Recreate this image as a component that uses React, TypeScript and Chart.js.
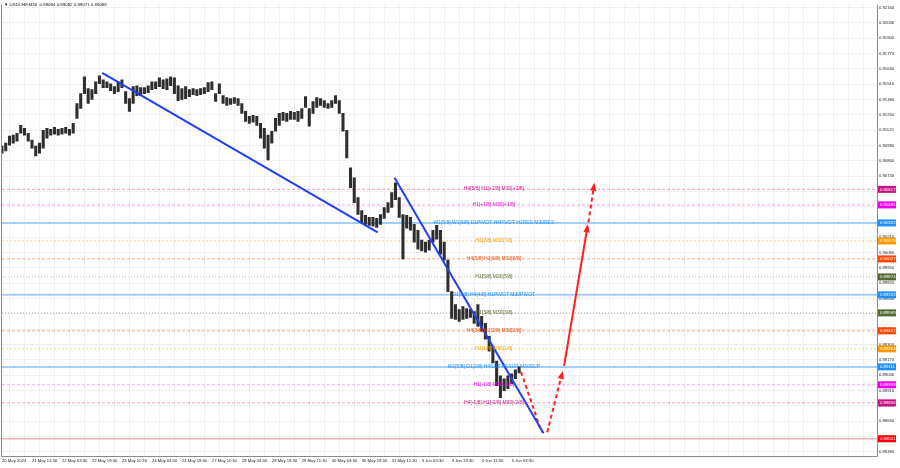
import { useEffect, useRef } from "react";
import { Chart, registerables } from "chart.js";

Chart.register(...registerables);

// ---- data ----
const titleText = "▼ USDCHF,M30  0.89084 0.89092 0.89071 0.89088";

// one column = 4 M30 bars (high / low of the group)
const COLUMN_BARS = 4;
const highs = [
  0.90984, 0.91009, 0.91068, 0.91077, 0.91093, 0.91160, 0.91135, 0.91093, 0.91034, 0.90984,
  0.91009, 0.91118, 0.91135, 0.91127, 0.91144, 0.91127, 0.91135, 0.91144, 0.91127, 0.91177,
  0.91345, 0.91429, 0.91572, 0.91471, 0.91463, 0.91530, 0.91580, 0.91547, 0.91530, 0.91513,
  0.91488, 0.91530, 0.91547, 0.91446, 0.91387, 0.91488, 0.91496, 0.91480, 0.91480, 0.91496,
  0.91530, 0.91530, 0.91564, 0.91547, 0.91555, 0.91572, 0.91564, 0.91496, 0.91471, 0.91488,
  0.91463, 0.91471, 0.91463, 0.91471, 0.91480, 0.91522, 0.91530, 0.91429, 0.91513, 0.91412,
  0.91396, 0.91387, 0.91396, 0.91387, 0.91345, 0.91278, 0.91236, 0.91244, 0.91236, 0.91177,
  0.91135, 0.91077, 0.91110, 0.91219, 0.91261, 0.91270, 0.91261, 0.91278, 0.91270, 0.91278,
  0.91303, 0.91404, 0.91303, 0.91362, 0.91396, 0.91387, 0.91370, 0.91345, 0.91370, 0.91412,
  0.91370, 0.91261, 0.91118, 0.90799, 0.90715, 0.90547, 0.90438, 0.90396, 0.90379, 0.90379,
  0.90371, 0.90404, 0.90463, 0.90505, 0.90589, 0.90673, 0.90547, 0.90404, 0.90396, 0.90379,
  0.90320, 0.90270, 0.90186, 0.90169, 0.90186, 0.90270, 0.90312, 0.90270, 0.90169, 0.90017,
  0.89749, 0.89640, 0.89598, 0.89623, 0.89606, 0.89598, 0.89581, 0.89640, 0.89539, 0.89480,
  0.89371, 0.89287, 0.89161, 0.89035, 0.89010, 0.89035, 0.89052, 0.89086, 0.89111,
];
const lows = [
  0.90925, 0.90942, 0.90992, 0.91009, 0.91026, 0.91093, 0.91077, 0.91026, 0.90967, 0.90900,
  0.90925, 0.90967, 0.91051, 0.91077, 0.91085, 0.91077, 0.91085, 0.91093, 0.91077, 0.91093,
  0.91219, 0.91303, 0.91429, 0.91345, 0.91379, 0.91429, 0.91513, 0.91480, 0.91480, 0.91454,
  0.91429, 0.91446, 0.91480, 0.91345, 0.91278, 0.91345, 0.91412, 0.91412, 0.91429, 0.91438,
  0.91463, 0.91471, 0.91488, 0.91471, 0.91463, 0.91496, 0.91429, 0.91370, 0.91379, 0.91387,
  0.91404, 0.91421, 0.91412, 0.91421, 0.91429, 0.91446, 0.91463, 0.91362, 0.91429, 0.91345,
  0.91328, 0.91337, 0.91345, 0.91328, 0.91261, 0.91194, 0.91177, 0.91186, 0.91160, 0.91051,
  0.90967, 0.90866, 0.91009, 0.91110, 0.91160, 0.91202, 0.91194, 0.91211, 0.91211, 0.91194,
  0.91219, 0.91312, 0.91152, 0.91261, 0.91312, 0.91328, 0.91312, 0.91303, 0.91312, 0.91345,
  0.91261, 0.91110, 0.90883, 0.90631, 0.90505, 0.90404, 0.90337, 0.90320, 0.90312, 0.90304,
  0.90295, 0.90320, 0.90371, 0.90421, 0.90463, 0.90530, 0.90379, 0.90026, 0.90287, 0.90270,
  0.90169, 0.90110, 0.90094, 0.90085, 0.90102, 0.90169, 0.90194, 0.90068, 0.90017, 0.89749,
  0.89522, 0.89514, 0.89497, 0.89514, 0.89522, 0.89531, 0.89480, 0.89455, 0.89413, 0.89346,
  0.89245, 0.89144, 0.88951, 0.88850, 0.88909, 0.88926, 0.88968, 0.89010, 0.89060,
];

const TICK_BARS = 32;
const tickLabels = [
  "20 May 2024", "21 May 11:30", "22 May 03:30", "22 May 19:30", "23 May 11:30", "24 May 03:30",
  "24 May 19:30", "27 May 11:30", "28 May 03:30", "28 May 19:30", "29 May 11:30", "30 May 03:30",
  "30 May 19:30", "31 May 11:30", "3 Jun 03:30", "3 Jun 19:30", "4 Jun 11:30", "5 Jun 03:30",
];
const X_MAX_BARS = 934;

const Y_MIN = 0.88355;
const Y_MAX = 0.92185;
const yTickValues = [
  0.9216, 0.9203, 0.919, 0.9177, 0.9164, 0.9151, 0.9138, 0.9125, 0.9112, 0.9099,
  0.9086, 0.9073, 0.906, 0.9047, 0.9034, 0.9021, 0.9008, 0.8995, 0.8982, 0.8969,
  0.8956, 0.8943, 0.893, 0.8917, 0.8904, 0.8891, 0.8878, 0.8865, 0.8852, 0.8839,
];

const levelPrices = [
  0.90617, 0.90485, 0.90332, 0.90179, 0.90027, 0.89874, 0.89722,
  0.89569, 0.89417, 0.89264, 0.89111, 0.88959, 0.88806, 0.88501,
];
const levelLabels = [
  "H4[5/8] H1[+2/8] M30[+2/8]",
  "H1[+1/8] M30[+1/8]",
  "W1[5/8] W1[6/8] D1PIVOT H4PIVOT H1RES M30RES",
  "H1[7/8] M30[7/8]",
  "H4[5/8] H1[6/8] M30[6/8]",
  "H1[5/8] M30[5/8]",
  "D1[3/8] H4[4/8] H1PIVOT M30PIVOT",
  "H1[3/8] M30[3/8]",
  "H4[3/8] H1[2/8] M30[2/8]",
  "H1[1/8] M30[1/8]",
  "W1[5/8] D1[2/8] H4SUP H1SUP M30SUP",
  "H1[-1/8] M30[-1/8]",
  "H4[-1/8] H1[-2/8] M30[-2/8]",
  "",
];
const LEVEL_LABEL_BAR = 525;

const trend1Bars = [107, 401];
const trend1Prices = [0.91606, 0.90253];
const trend2Bars = [419, 578];
const trend2Prices = [0.90715, 0.88548];

const arrowDownBars = [554, 576];
const arrowDownPrices = [0.89069, 0.88557];
const arrowUp1Bars = [582, 598];
const arrowUp1Prices = [0.88557, 0.8906];
const arrowUp2Bars = [600, 625];
const arrowUp2Prices = [0.89119, 0.90304];
const arrowUp3Bars = [626, 632];
const arrowUp3Prices = [0.90337, 0.90656];

// ---- styles ----
const levelColors = [
  "#c71585", "#ee00ee", "#1e90ff", "#ff9900", "#ff4500", "#556b2f", "#1e90ff",
  "#556b2f", "#ff4500", "#ff9900", "#1e90ff", "#ee00ee", "#c71585", "#ff0000",
];
const levelLineColors = [
  "rgba(199,21,133,0.4)", "rgba(238,0,238,0.35)", "#a3cff7", "rgba(255,153,0,0.45)",
  "rgba(255,69,0,0.45)", "rgba(85,107,47,0.45)", "#a3cff7", "rgba(85,107,47,0.45)",
  "rgba(255,69,0,0.45)", "rgba(255,153,0,0.45)", "#a3cff7", "rgba(238,0,238,0.35)",
  "rgba(199,21,133,0.4)", "rgba(240,90,90,0.7)",
];
const levelDashes = [
  [3, 2], [3, 2], [], [2, 2], [3, 2], [1, 2], [], [1, 2], [3, 2], [2, 2], [], [3, 2], [3, 2], [],
];
const levelWidths = [1, 1, 2, 1, 1, 1, 2, 1, 1, 1, 2, 1, 1, 1];

const FONT = '"Liberation Sans", Arial, sans-serif';

const pairs = (bars: number[], prices: number[]) =>
  bars.map((b, i) => ({ x: b, y: prices[i] }));

const overlayPlugin = {
  id: "overlay",
  afterDatasetsDraw(chart: any) {
    const ctx = chart.ctx;
    chart.data.datasets.forEach((ds: any, i: number) => {
      if (!ds.arrowHead) return;
      const pts = chart.getDatasetMeta(i).data;
      const a = pts[pts.length - 2];
      const b = pts[pts.length - 1];
      const ang = Math.atan2(b.y - a.y, b.x - a.x);
      const len = 8;
      const half = 3.2;
      const tipX = b.x + Math.cos(ang) * 2;
      const tipY = b.y + Math.sin(ang) * 2;
      ctx.save();
      ctx.fillStyle = ds.borderColor;
      ctx.beginPath();
      ctx.moveTo(tipX, tipY);
      ctx.lineTo(tipX - len * Math.cos(ang) + half * Math.sin(ang), tipY - len * Math.sin(ang) - half * Math.cos(ang));
      ctx.lineTo(tipX - len * Math.cos(ang) - half * Math.sin(ang), tipY - len * Math.sin(ang) + half * Math.cos(ang));
      ctx.closePath();
      ctx.fill();
      ctx.restore();
    });
    const xs = chart.scales.x;
    const ys = chart.scales.y;
    ctx.save();
    ctx.font = `5px ${FONT}`;
    ctx.textAlign = "center";
    ctx.textBaseline = "middle";
    levelLabels.forEach((t, i) => {
      if (!t) return;
      ctx.fillStyle = levelColors[i];
      ctx.fillText(t, xs.getPixelForValue(LEVEL_LABEL_BAR), ys.getPixelForValue(levelPrices[i]) - 0.5);
    });
    ctx.restore();
  },
  afterDraw(chart: any) {
    const ctx = chart.ctx;
    const { left, right, top, bottom } = chart.chartArea;
    const ys = chart.scales.y;
    ctx.save();
    ctx.strokeStyle = "#8a8a8a";
    ctx.lineWidth = 1;
    ctx.beginPath();
    ctx.moveTo(left - 0.5, top);
    ctx.lineTo(left - 0.5, bottom + 0.5);
    ctx.lineTo(right + 0.5, bottom + 0.5);
    ctx.lineTo(right + 0.5, top);
    ctx.stroke();
    ctx.fillStyle = "#111";
    ctx.font = `4.4px ${FONT}`;
    ctx.textAlign = "left";
    ctx.textBaseline = "middle";
    ctx.fillText(titleText, left + 2, 5);
    ctx.font = `4.3px ${FONT}`;
    levelPrices.forEach((p, i) => {
      const y = ys.getPixelForValue(p);
      ctx.fillStyle = levelColors[i];
      ctx.fillRect(right + 1, y - 3.5, 18, 7);
      ctx.fillStyle = "#ffffff";
      ctx.fillText(p.toFixed(5), right + 3, y + 0.3);
    });
    ctx.restore();
  },
};

export default function App() {
  const ref = useRef<HTMLCanvasElement | null>(null);

  useEffect(() => {
    document.body.style.margin = "0";
    const canvas = ref.current;
    if (!canvas) return;

    const candleData = highs.map((h, i) => ({ x: i * COLUMN_BARS, y: [lows[i], h] }));

    const levelSets = levelPrices.map((p, i) => ({
      type: "line" as const,
      data: [{ x: 0, y: p }, { x: X_MAX_BARS, y: p }],
      borderColor: levelLineColors[i],
      borderWidth: levelWidths[i],
      borderDash: levelDashes[i],
      pointRadius: 0,
      order: 5,
    }));

    const trendStyle = { type: "line" as const, borderColor: "#1f3ff0", borderWidth: 2, pointRadius: 0, order: 1 };
    const red = "#ff1f1f";

    const chart = new Chart(canvas, {
      type: "bar",
      data: {
        datasets: [
          ...levelSets,
          {
            type: "bar",
            data: candleData as any,
            backgroundColor: "#2e2e2e",
            barThickness: 2.4,
            order: 3,
          },
          { ...trendStyle, data: pairs(trend1Bars, trend1Prices) },
          { ...trendStyle, data: pairs(trend2Bars, trend2Prices) },
          { type: "line", data: pairs(arrowDownBars, arrowDownPrices), borderColor: red, borderWidth: 2, borderDash: [4, 3], pointRadius: 0, order: 1 },
          { type: "line", data: pairs(arrowUp1Bars, arrowUp1Prices), borderColor: red, borderWidth: 2, borderDash: [4, 3], pointRadius: 0, order: 1, arrowHead: true } as any,
          { type: "line", data: pairs(arrowUp2Bars, arrowUp2Prices), borderColor: red, borderWidth: 2, pointRadius: 0, order: 1, arrowHead: true } as any,
          { type: "line", data: pairs(arrowUp3Bars, arrowUp3Prices), borderColor: red, borderWidth: 2, borderDash: [4, 3], pointRadius: 0, order: 1, arrowHead: true } as any,
        ] as any,
      },
      options: {
        animation: false,
        responsive: true,
        maintainAspectRatio: false,
        layout: { padding: { left: 1, right: 0, top: 0, bottom: 0 } },
        plugins: { legend: { display: false }, tooltip: { enabled: false } },
        scales: {
          x: {
            type: "linear",
            min: 0,
            max: X_MAX_BARS,
            offset: false,
            border: { display: false },
            grid: { color: "#efefef", lineWidth: 1, drawTicks: false },
            afterBuildTicks: (scale: any) => {
              const t = [];
              for (let v = 0; v <= X_MAX_BARS; v += TICK_BARS / 2) t.push({ value: v });
              scale.ticks = t;
            },
            afterFit: (scale: any) => {
              scale.height = 12;
            },
            ticks: {
              autoSkip: false,
              maxRotation: 0,
              minRotation: 0,
              align: "start",
              padding: 2,
              color: "#222",
              font: { family: FONT, size: 4.2 },
              callback: (v: any) => {
                const n = Number(v);
                if (n % TICK_BARS !== 0) return "";
                return tickLabels[n / TICK_BARS] ?? "";
              },
            },
          },
          y: {
            type: "linear",
            position: "right",
            min: Y_MIN,
            max: Y_MAX,
            border: { display: false },
            grid: { color: "#efefef", lineWidth: 1, drawTicks: false },
            afterBuildTicks: (scale: any) => {
              scale.ticks = yTickValues.map((v) => ({ value: v }));
            },
            afterFit: (scale: any) => {
              scale.width = 23;
            },
            ticks: {
              padding: 2,
              color: "#222",
              font: { family: FONT, size: 4.2 },
              callback: (v: any) => Number(v).toFixed(5),
            },
          },
        },
      },
      plugins: [overlayPlugin],
    });

    return () => chart.destroy();
  }, []);

  return (
    <div style={{ position: "fixed", left: 0, top: 0, width: 900, height: 468, background: "#fff" }}>
      <canvas ref={ref} />
    </div>
  );
}
